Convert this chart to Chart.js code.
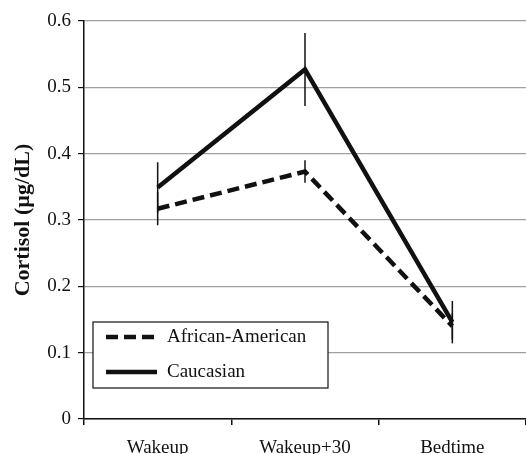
<!DOCTYPE html>
<html>
<head>
<meta charset="utf-8">
<script src="https://cdn.jsdelivr.net/npm/chart.js@4.4.1/dist/chart.umd.min.js"></script>
<style>
  html, body { margin: 0; padding: 0; background: #fff; }
  #wrap { width: 526px; height: 454px; }
</style>
</head>
<body>
<div id="wrap"><canvas id="cortisolChart" width="526" height="454"></canvas></div>
<script>
const categories = ['Wakeup', 'Wakeup+30', 'Bedtime'];
const africanAmerican = [0.317, 0.373, 0.140];
const africanAmericanErr = [0.025, 0.017, 0.020];
const caucasian = [0.349, 0.527, 0.146];
const caucasianErr = [0.038, 0.055, 0.032];
const yTickLabels = ['0', '0.1', '0.2', '0.3', '0.4', '0.5', '0.6'];

const serif = "'Liberation Serif', 'Times New Roman', serif";

// vertical error bars, no caps
const errorBars = {
    id: 'errorBars',
    afterDatasetsDraw(chart) {
        const ctx = chart.ctx;
        const x = chart.scales.x, y = chart.scales.y;
        ctx.save();
        ctx.strokeStyle = '#111';
        ctx.lineWidth = 1.5;
        chart.data.datasets.forEach(ds => {
            ds.data.forEach((v, i) => {
                const px = x.getPixelForValue(i);
                ctx.beginPath();
                ctx.moveTo(px, y.getPixelForValue(v + ds.errors[i]));
                ctx.lineTo(px, y.getPixelForValue(v - ds.errors[i]));
                ctx.stroke();
            });
        });
        ctx.restore();
    }
};

// boxed legend sitting inside the plot
const boxLegend = {
    id: 'boxLegend',
    afterDraw(chart) {
        const ctx = chart.ctx;
        const left = 93, top = 322, w = 235, h = 66;
        ctx.save();
        ctx.fillStyle = '#fff';
        ctx.fillRect(left, top, w, h);
        ctx.strokeStyle = '#111';
        ctx.lineWidth = 1.2;
        ctx.strokeRect(left, top, w, h);
        ctx.font = '19px ' + serif;
        ctx.textBaseline = 'middle';
        chart.data.datasets.forEach((ds, i) => {
            const cy = top + 15 + i * 35;
            ctx.beginPath();
            ctx.setLineDash(ds.borderDash || []);
            ctx.lineWidth = ds.borderWidth;
            ctx.strokeStyle = ds.borderColor;
            ctx.moveTo(106, cy);
            ctx.lineTo(157, cy);
            ctx.stroke();
            ctx.setLineDash([]);
            ctx.fillStyle = '#111';
            ctx.fillText(ds.label, 167, cy);
        });
        ctx.restore();
    }
};

new Chart(document.getElementById('cortisolChart').getContext('2d'), {
    type: 'line',
    data: {
        labels: categories,
        datasets: [{
            label: 'African-American',
            data: africanAmerican,
            errors: africanAmericanErr,
            borderColor: '#111',
            borderWidth: 4.5,
            borderDash: [12, 6],
            pointRadius: 0,
            borderJoinStyle: 'miter',
            fill: false
        }, {
            label: 'Caucasian',
            data: caucasian,
            errors: caucasianErr,
            borderColor: '#111',
            borderWidth: 4.5,
            pointRadius: 0,
            borderJoinStyle: 'miter',
            fill: false
        }]
    },
    options: {
        responsive: false,
        animation: false,
        layout: { padding: { top: 21, right: -2, bottom: 0, left: 0 } },
        plugins: {
            legend: { display: false },
            tooltip: { enabled: false }
        },
        scales: {
            x: {
                offset: true,
                grid: {
                    offset: true,
                    drawOnChartArea: false,
                    drawTicks: true,
                    tickLength: 6,
                    tickColor: '#111',
                    lineWidth: 1.5
                },
                border: { color: '#111', width: 1.5 },
                ticks: {
                    color: '#111',
                    padding: 12,
                    font: { family: serif, size: 19 }
                },
                afterFit(scale) { scale.height = 35; }
            },
            y: {
                min: 0,
                max: 0.6,
                ticks: {
                    stepSize: 0.1,
                    color: '#111',
                    padding: 7,
                    font: { family: serif, size: 19 },
                    callback: (v, i) => yTickLabels[i]
                },
                grid: {
                    color: '#a0a0a0',
                    lineWidth: 1.2,
                    tickColor: '#111',
                    tickLength: 6
                },
                border: { color: '#111', width: 1.5 },
                title: {
                    display: true,
                    text: 'Cortisol (µg/dL)',
                    color: '#111',
                    padding: { top: 10, bottom: 0 },
                    font: { family: serif, size: 22, weight: 'bold' }
                },
                afterFit(scale) { scale.width = 84; }
            }
        }
    },
    plugins: [errorBars, boxLegend]
});
</script>
</body>
</html>
